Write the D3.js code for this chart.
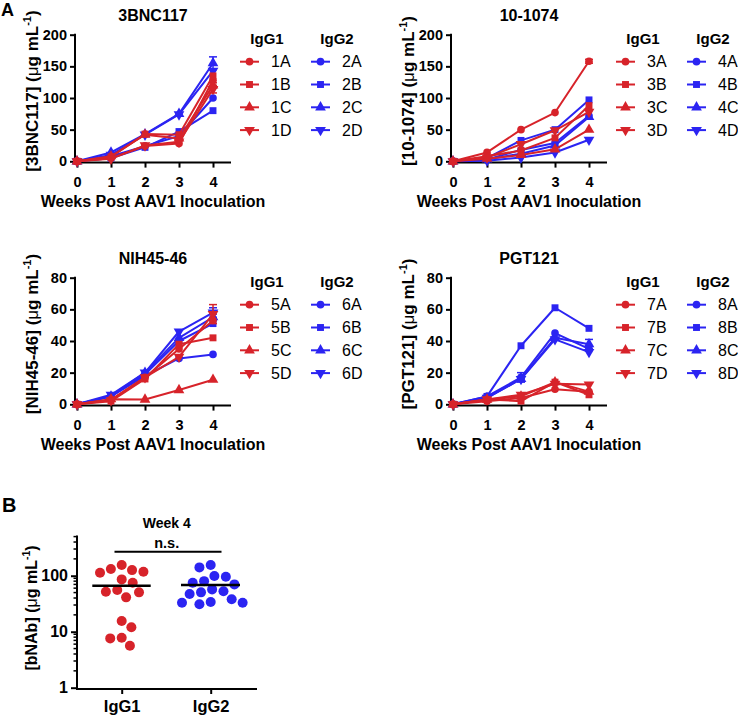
<!DOCTYPE html>
<html><head><meta charset="utf-8">
<script src="https://cdn.jsdelivr.net/npm/d3@7"></script>
<style>
body{margin:0;background:#fff}
text{font-family:"Liberation Sans",Arial,sans-serif;fill:#000}
</style>
</head><body>
<svg id="c" width="738" height="715"></svg>
<script>
// ---------------- DATA ----------------
const weeks = [0, 1, 2, 3, 4];
const panelTitles = ["3BNC117", "10-1074", "NIH45-46", "PGT121"];
const panelYLabels = ["[3BNC117]", "[10-1074]", "[NIH45-46]", "[PGT121]"];
const panelYMax = [200, 200, 80, 80];
const panelYTicks = [[0, 50, 100, 150, 200], [0, 50, 100, 150, 200], [0, 20, 40, 60, 80], [0, 20, 40, 60, 80]];
const groupNames = ["IgG1", "IgG2"];
const igg1Names = [["1A", "1B", "1C", "1D"], ["3A", "3B", "3C", "3D"], ["5A", "5B", "5C", "5D"], ["7A", "7B", "7C", "7D"]];
const igg2Names = [["2A", "2B", "2C", "2D"], ["4A", "4B", "4C", "4D"], ["6A", "6B", "6C", "6D"], ["8A", "8B", "8C", "8D"]];

// 3BNC117
const p1IgG1 = [[0, 5, 24, 28, 128], [0, 7, 43, 42, 135], [0, 8, 42, 36, 120], [0, 4, 25, 31, 114]];
const p1IgG2 = [[0, 8, 24, 40, 100], [0, 5, 22, 47, 80], [0, 14, 43, 75, 155], [0, 10, 42, 74, 143]];
// 10-1074
const p2IgG1 = [[0, 14, 50, 77, 158], [0, 8, 17, 37, 88], [0, 4, 10, 19, 50], [0, 6, 27, 49, 78]];
const p2IgG2 = [[0, 3, 18, 29, 72], [0, 5, 33, 50, 97], [0, 3, 12, 25, 70], [0, 1, 6, 14, 34]];
// NIH45-46
const p3IgG1 = [[0, 3, 17, 35, 53], [0, 2, 16, 38, 42], [0, 3.2, 3, 9, 15.5], [0, 2.5, 17, 30, 57]];
const p3IgG2 = [[0, 5, 18, 29, 31.5], [0, 5, 19, 40, 51], [0, 5, 20, 42, 55], [0, 6, 20, 46, 58]];
// PGT121
const p4IgG1 = [[0, 2, 4, 9.5, 8], [0, 3, 2, 14, 6], [0, 3, 5, 14, 8], [0, 3, 6, 13, 12.5]];
const p4IgG2 = [[0, 5, 17, 45, 35], [0, 5, 37, 61, 48], [0, 4, 16, 42, 38], [0, 4, 16, 41, 33]];

// error bars: panel, group (0 IgG1, 1 IgG2), series, week, sem
const errPanel = [0, 0, 0, 1, 2, 2, 2, 3, 3];
const errGroup = [1, 0, 0, 0, 0, 1, 1, 1, 1];
const errSeries = [2, 3, 2, 0, 3, 3, 2, 0, 2];
const errWeek = [4, 4, 4, 4, 4, 4, 4, 2, 4];
const errSem = [10, 6, 4, 3, 6, 3, 2, 3, 3];

// Panel B: week 4 concentrations
const bGroups = ["IgG1", "IgG2"];
const bIgG1 = [155, 118, 126, 132, 113, 86, 75, 51.8, 50.5, 55.6, 41.1, 15.5, 12, 7.8, 7.6, 5.6];
const bIgG2 = [141, 155, 96, 99, 75, 80, 70, 57, 53, 50.5, 47, 38, 33, 30.9, 33, 33.9];
const bMedians = [66, 68];
const bTicks = [1, 10, 100];

// ---------------- DRAWING ----------------
const RED = "#d7232a", BLUE = "#2b24f2";
const svg = d3.select("#c");
const panelData = [[p1IgG1, p1IgG2], [p2IgG1, p2IgG2], [p3IgG1, p3IgG2], [p4IgG1, p4IgG2]];
const offsets = [[0, 0], [376, 0], [0, 243], [376, 243]];
const symTypes = [d3.symbolCircle, d3.symbolSquare, d3.symbolTriangle, d3.symbolTriangle];
const symSizes = [46, 48, 50, 50];
const symRot = [0, 0, 0, 180];
const FONT = '"Liberation Sans",Arial,sans-serif';

function marker(g, cx, cy, k, color) {
  g.append("path")
    .attr("d", d3.symbol().type(symTypes[k]).size(symSizes[k])())
    .attr("transform", `translate(${cx},${cy}) rotate(${symRot[k]})`)
    .attr("fill", color);
}

function drawPanel(i) {
  const [ox, oy] = offsets[i];
  const g = svg.append("g").attr("transform", `translate(${ox},${oy})`);
  const axX = 75, axY = 162.6;
  const x = d3.scaleLinear().domain([0, 4]).range([77, 213]);
  const y = d3.scaleLinear().domain([0, panelYMax[i]]).range([161.3, 34.7]);

  const ya = g.append("g").attr("transform", `translate(${axX},0)`)
    .call(d3.axisLeft(y).tickValues(panelYTicks[i]).tickSize(5).tickPadding(3).tickSizeOuter(0));
  ya.select(".domain").remove();
  ya.selectAll("line").attr("stroke", "#000").attr("stroke-width", 2);
  ya.selectAll("text").attr("font-size", 14.5).attr("font-weight", "bold").attr("font-family", FONT);
  const xa = g.append("g").attr("transform", `translate(0,${axY})`)
    .call(d3.axisBottom(x).tickValues(weeks).tickFormat(d3.format("d")).tickSize(5).tickPadding(9).tickSizeOuter(0));
  xa.select(".domain").remove();
  xa.selectAll("line").attr("stroke", "#000").attr("stroke-width", 2);
  xa.selectAll("text").attr("font-size", 14.5).attr("font-weight", "bold").attr("font-family", FONT);
  g.append("line").attr("x1", axX).attr("x2", axX).attr("y1", y(panelYMax[i]) - 1).attr("y2", axY + 1)
    .attr("stroke", "#000").attr("stroke-width", 2);
  g.append("line").attr("x1", axX - 1).attr("x2", 231).attr("y1", axY).attr("y2", axY)
    .attr("stroke", "#000").attr("stroke-width", 2);

  g.append("text").attr("x", 153).attr("y", 21).attr("text-anchor", "middle")
    .attr("font-size", 16).attr("font-weight", "bold").text(panelTitles[i]);
  g.append("text").attr("x", 153).attr("y", 207).attr("text-anchor", "middle")
    .attr("font-size", 16).attr("font-weight", "bold").text("Weeks Post AAV1 Inoculation");
  const yt = g.append("text").attr("transform", `translate(38,91) rotate(-90)`).attr("text-anchor", "middle")
    .attr("font-size", 17).attr("font-weight", "bold");
  yt.append("tspan").text(panelYLabels[i] + " (");
  yt.append("tspan").attr("font-weight", "normal").text("\u03bc");
  yt.append("tspan").text("g mL");
  yt.append("tspan").attr("font-size", 11).attr("dy", -7).text("-1");
  yt.append("tspan").attr("dy", 7).text(")");

  const line = d3.line().x((d, j) => x(weeks[j])).y(d => y(d));
  const colors = [RED, BLUE];
  [1, 0].forEach(gi => {
    panelData[i][gi].forEach((vals, k) => {
      g.append("path").attr("d", line(vals)).attr("fill", "none")
        .attr("stroke", colors[gi]).attr("stroke-width", 2).attr("stroke-linejoin", "round");
      errPanel.forEach((p, e) => {
        if (p === i && errGroup[e] === gi && errSeries[e] === k) {
          const w = errWeek[e], v = vals[w], s = errSem[e];
          const cx = x(weeks[w]);
          g.append("line").attr("x1", cx).attr("x2", cx).attr("y1", y(v - s)).attr("y2", y(v + s))
            .attr("stroke", colors[gi]).attr("stroke-width", 1.5);
          [v - s, v + s].forEach(t => g.append("line").attr("x1", cx - 4).attr("x2", cx + 4)
            .attr("y1", y(t)).attr("y2", y(t)).attr("stroke", colors[gi]).attr("stroke-width", 1.5));
        }
      });
      vals.forEach((v, j) => marker(g, x(weeks[j]), y(v), k, colors[gi]));
    });
  });

  const headX = [267, 337];
  const lineX = [[240, 259], [311, 330]];
  const labX = [271, 342];
  const names = [igg1Names[i], igg2Names[i]];
  [0, 1].forEach(gi => {
    g.append("text").attr("x", headX[gi]).attr("y", 44).attr("text-anchor", "middle")
      .attr("font-size", 15).attr("font-weight", "bold").text(groupNames[gi]);
    names[gi].forEach((nm, k) => {
      const ry = 61.7 + 22.8 * k;
      g.append("line").attr("x1", lineX[gi][0]).attr("x2", lineX[gi][1]).attr("y1", ry).attr("y2", ry)
        .attr("stroke", colors[gi]).attr("stroke-width", 2);
      marker(g, (lineX[gi][0] + lineX[gi][1]) / 2, ry, k, colors[gi]);
      g.append("text").attr("x", labX[gi]).attr("y", ry + 5.7).attr("font-size", 16).text(nm);
    });
  });
}
[0, 1, 2, 3].forEach(drawPanel);

svg.append("text").attr("x", 1).attr("y", 16).attr("font-size", 18).attr("font-weight", "bold").text("A");
svg.append("text").attr("x", 2).attr("y", 511.5).attr("font-size", 20).attr("font-weight", "bold").text("B");

// ---------------- PANEL B ----------------
(function () {
  const g = svg.append("g");
  const axX = 77, axY = 689;
  const yB = d3.scaleLog().domain([1, 500]).range([687.7, 536.6]);
  const xB = d3.scalePoint().domain(bGroups).range([121.7, 210.7]);

  const minor = [];
  [1, 10, 100].forEach(dec => { for (let m = 2; m <= 9; m++) { const v = dec * m; if (v <= 500) minor.push(v); } });
  g.selectAll(".mt").data(minor).enter().append("line")
    .attr("x1", axX - 3.5).attr("x2", axX).attr("y1", d => yB(d)).attr("y2", d => yB(d))
    .attr("stroke", "#000").attr("stroke-width", 1.5);
  const ya = g.append("g").attr("transform", `translate(${axX},0)`)
    .call(d3.axisLeft(yB).tickValues(bTicks).tickFormat(d3.format("d")).tickSize(6).tickPadding(3).tickSizeOuter(0));
  ya.select(".domain").remove();
  ya.selectAll("line").attr("stroke", "#000").attr("stroke-width", 2);
  ya.selectAll("text").attr("font-size", 16).attr("font-weight", "bold").attr("font-family", FONT);
  const xa = g.append("g").attr("transform", `translate(0,${axY})`)
    .call(d3.axisBottom(xB).tickSize(5).tickPadding(6).tickSizeOuter(0));
  xa.select(".domain").remove();
  xa.selectAll("line").attr("stroke", "#000").attr("stroke-width", 2);
  xa.selectAll("text").attr("font-size", 16.5).attr("font-weight", "bold").attr("font-family", FONT);
  g.append("line").attr("x1", axX).attr("x2", axX).attr("y1", yB(500) - 1).attr("y2", axY + 1)
    .attr("stroke", "#000").attr("stroke-width", 2);
  g.append("line").attr("x1", axX - 1).attr("x2", 257).attr("y1", axY).attr("y2", axY)
    .attr("stroke", "#000").attr("stroke-width", 2);

  g.append("text").attr("x", 166.7).attr("y", 528.3).attr("text-anchor", "middle")
    .attr("font-size", 14).attr("font-weight", "bold").text("Week 4");
  g.append("text").attr("x", 166.7).attr("y", 547.5).attr("text-anchor", "middle")
    .attr("font-size", 14.5).attr("font-weight", "bold").text("n.s.");
  g.append("line").attr("x1", 114.5).attr("x2", 221.5).attr("y1", 551.7).attr("y2", 551.7)
    .attr("stroke", "#000").attr("stroke-width", 2);

  const yt = g.append("text").attr("transform", `translate(37,608) rotate(-90)`).attr("text-anchor", "middle")
    .attr("font-size", 16).attr("font-weight", "bold");
  yt.append("tspan").text("[bNAb] (");
  yt.append("tspan").attr("font-weight", "normal").text("\u03bc");
  yt.append("tspan").text("g mL");
  yt.append("tspan").attr("font-size", 10.5).attr("dy", -7).text("-1");
  yt.append("tspan").attr("dy", 7).text(")");

  function swarm(vals, cx, d) {
    const pts = vals.map((v, i) => ({ v, i, y: yB(v) })).sort((a, b) => a.y - b.y);
    const placed = [];
    pts.forEach(p => {
      const iv = [];
      placed.forEach(q => {
        const dy = Math.abs(q.y - p.y);
        if (dy < d) { const dx = Math.sqrt(d * d - dy * dy); iv.push([q.x - dx, q.x + dx]); }
      });
      const cands = [cx];
      iv.forEach(([a, b]) => cands.push(a, b));
      cands.sort((a, b) => Math.abs(a - cx) - Math.abs(b - cx));
      for (const c of cands) {
        if (iv.every(([a, b]) => c <= a + 1e-6 || c >= b - 1e-6)) { p.x = c; break; }
      }
      placed.push(p);
    });
    return pts;
  }
  const cols = [RED, BLUE];
  [bIgG1, bIgG2].forEach((vals, gi) => {
    const pts = swarm(vals, xB(bGroups[gi]), 11.5);
    g.selectAll(null).data(pts).enter().append("circle")
      .attr("cx", d => d.x).attr("cy", d => d.y).attr("r", 5).attr("fill", cols[gi]);
  });
  const mw = [[92.3, 150.7], [181, 240]];
  bMedians.forEach((m, gi) => {
    g.append("line").attr("x1", mw[gi][0]).attr("x2", mw[gi][1]).attr("y1", yB(m)).attr("y2", yB(m))
      .attr("stroke", "#000").attr("stroke-width", 2.5);
  });
})();
</script>
</body></html>
